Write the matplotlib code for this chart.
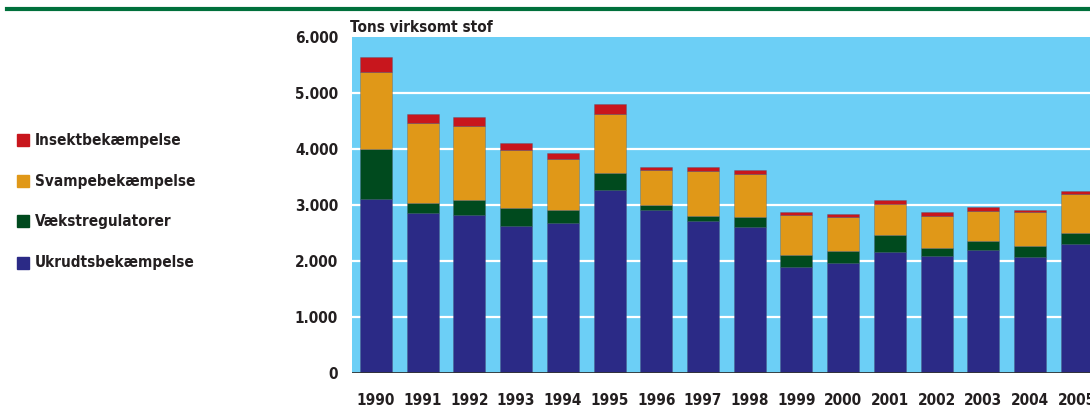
import numpy as np
import matplotlib
matplotlib.use("Agg")
import matplotlib.pyplot as plt
import matplotlib.font_manager as fm
from matplotlib.ticker import FuncFormatter

# data (tons active substance)
years = list(range(1990, 2006))
ukrudt = [3110, 2850, 2815, 2620, 2670, 3265, 2900, 2715, 2605, 1880, 1965, 2150, 2090, 2195, 2075, 2300]
vaekst = [885, 190, 275, 330, 245, 310, 90, 95, 175, 225, 210, 310, 145, 155, 190, 205]
svampe = [1375, 1425, 1330, 1040, 900, 1060, 635, 800, 780, 710, 610, 560, 575, 540, 600, 690]
insekt = [280, 170, 150, 115, 110, 175, 50, 75, 70, 60, 60, 70, 60, 65, 35, 55]

series = [
    ("Ukrudtsbekæmpelse", ukrudt, "#2b2a86"),
    ("Vækstregulatorer", vaekst, "#004a1e"),
    ("Svampebekæmpelse", svampe, "#e09818"),
    ("Insektbekæmpelse", insekt, "#c8161d"),
]

text_col = "#231f20"
bg_col = "#6ccff6"

# look for a bold condensed face, otherwise fall back to Roboto bold
narrow = None
for f in fm.fontManager.ttflist:
    fn = f.fname.lower()
    if ("narrow" in fn or "condensed" in fn) and f.weight in (600, 700, "bold", "semibold"):
        if "semi" not in fn and "extra" not in fn:
            narrow = f.fname
            break
if narrow:
    fp = fm.FontProperties(fname=narrow)
    fsize = 11
else:
    fp = fm.FontProperties(family=["Roboto", "DejaVu Sans"], weight="bold")
    fsize = 10.5

fig = plt.figure(figsize=(10.9, 4.19), dpi=100)

# green rule at top
fig.add_artist(plt.Line2D([7 / 1090, 1.0], [1 - 8.7 / 419] * 2, color="#00703c", lw=3))

ax = fig.add_axes([352 / 1090, 1 - 372.5 / 419, 1 - 352 / 1090, 335.2 / 419])
ax.set_facecolor(bg_col)

bottom = np.zeros(len(years))
for name, vals, col in series:
    ax.bar(years, vals, width=0.685, bottom=bottom, color=col, zorder=3,
           edgecolor=(0.3, 0.3, 0.4, 0.35), linewidth=0.6)
    bottom += np.array(vals)

ax.set_xlim(1989.49, 2005.28)
ax.set_ylim(0, 6000)
ax.set_yticks(np.arange(0, 6001, 1000))
ax.yaxis.set_major_formatter(FuncFormatter(lambda v, p: f"{int(v):,}".replace(",", ".")))
ax.set_xticks(years)
ax.set_xticklabels([str(y) for y in years])
ax.tick_params(axis="both", length=0, labelcolor=text_col)
ax.tick_params(axis="y", pad=10)
ax.tick_params(axis="x", pad=15)
for lab in ax.get_xticklabels() + ax.get_yticklabels():
    lab.set_fontproperties(fp)
    lab.set_fontsize(fsize)

for y in range(1000, 6000, 1000):
    ax.axhline(y, color="white", lw=1.6, zorder=2)
ax.axhline(0, color="#333333", lw=2, zorder=4)

for s in ax.spines.values():
    s.set_visible(False)

fig.text(350 / 1090, 1 - 28 / 419, "Tons virksomt stof", fontproperties=fp, fontsize=fsize,
         color=text_col, va="center", ha="left")

# legend, drawn by hand at left
leg_y = [140, 181.5, 221.5, 262.5]
for (name, vals, col), yy in zip(reversed(series), leg_y):
    fig.patches.append(plt.Rectangle((17 / 1090, 1 - (yy + 6) / 419), 12 / 1090, 12 / 419,
                                     color=col, transform=fig.transFigure, figure=fig))
    fig.text(35 / 1090, 1 - yy / 419, name, fontproperties=fp, fontsize=fsize, color=text_col,
             va="center", ha="left")

fig.savefig("out.png", dpi=100)
